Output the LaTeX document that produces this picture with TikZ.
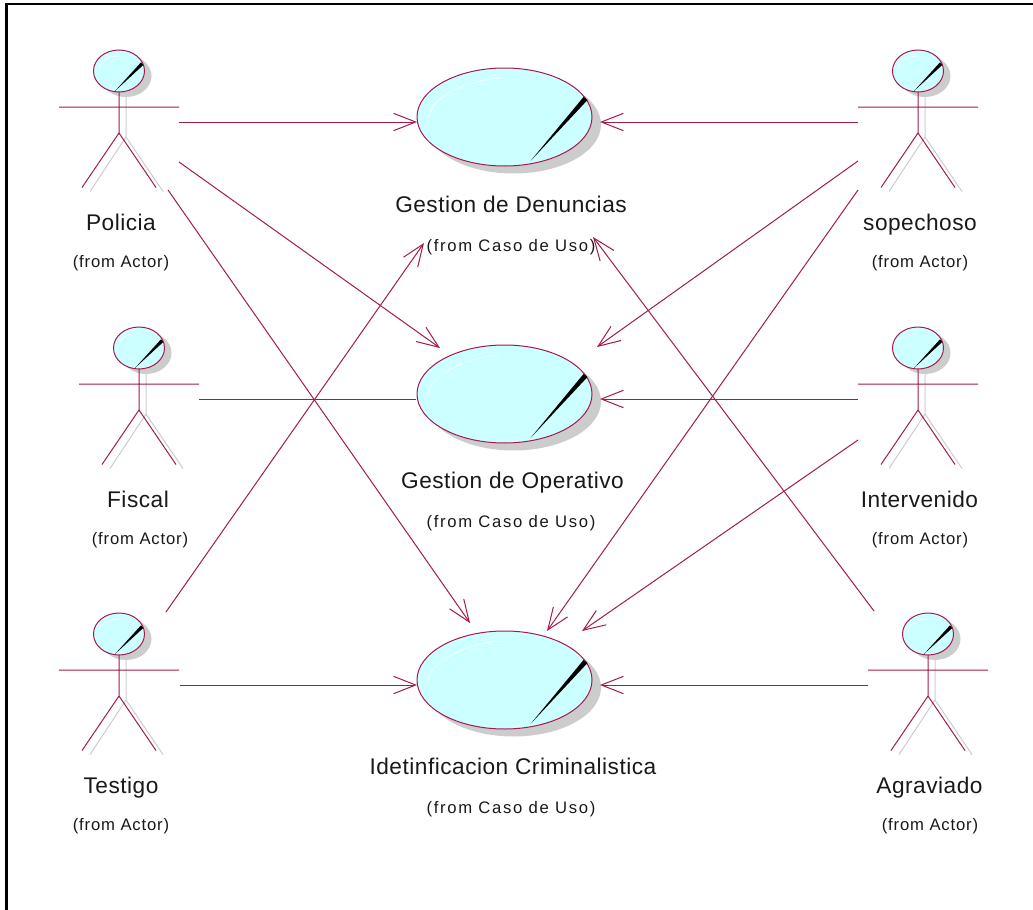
\documentclass[tikz,border=0pt]{standalone}
\usepackage{fontspec}
\setmainfont{Liberation Sans}
\usetikzlibrary{arrows.meta,shapes.geometric}
\definecolor{umlline}{HTML}{A31A4D}
\definecolor{umlfill}{HTML}{CCFFFF}
\definecolor{umlshadow}{HTML}{CCCCCC}
\tikzset{
  x=0.75pt,y=-0.75pt,
  frameline/.style={draw=black,line width=1.6pt},
  assoc/.style={draw=umlline,line width=0.75pt},
  navassoc/.style={assoc,-{Straight Barb[length=16.5pt,width=13pt,line width=0.75pt]}},
  actorbox/.style={minimum width=90pt,minimum height=108pt,inner sep=0pt,outer sep=0pt},
  limb/.style={draw=umlline,line width=0.75pt},
  limbshadow/.style={draw=umlshadow,line width=0.75pt},
  titletext/.style={anchor=base,font=\fontsize{17}{20}\selectfont\addfontfeature{LetterSpace=2.2},text=black!90,inner sep=0pt},
  fromtext/.style={anchor=base,font=\fontsize{12.5}{15}\selectfont\addfontfeature{LetterSpace=5},text=black!90,inner sep=0pt},
  fromcase/.style={anchor=base,font=\fontsize{12.5}{15}\selectfont\addfontfeature{LetterSpace=10},text=black!90,inner sep=0pt},
}
\newcommand{\umlactor}[3]{% name, head centre x, head centre y
  \begin{scope}[shift={(#2,#3)}]
    \fill[umlshadow] (7,5) ellipse [x radius=25.5,y radius=21];
    \draw[limbshadow] (7,21) -- (7,66) (-29,120.5) -- (7,66) -- (44,120.5);
    \draw[limb] (0,21) -- (0,62) (-60,36) -- (60,36) (-37,116.5) -- (0,62) -- (37,116.5);
    \draw[umlline,fill=umlfill,line width=0.75pt] (0,0) ellipse [x radius=25.5,y radius=21];
    \fill[black] (24.3,-6) -- (22,-8.7) -- (-4,20) -- cycle;
    \draw[white,line width=0.5pt] (-20,-2) .. controls (-19,-11) and (-10,-15) .. (0,-15);
  \end{scope}
  \node[actorbox] (#1) at (#2,#3+51) {};
}
\newcommand{\usecase}[3]{% name, cx, cy
  \begin{scope}[shift={(#2,#3)}]
    \fill[umlshadow] (9,7.5) ellipse [x radius=87.5,y radius=49];
    \draw[umlline,fill=umlfill,line width=0.75pt] (0,0) ellipse [x radius=87.5,y radius=49];
    \fill[black] (83,-17) -- (79,-20) -- (26,44) -- cycle;
    \draw[white,line width=0.5pt] (-76,1) .. controls (-75,-22) and (-30,-38) .. (-3,-39);
  \end{scope}
  \node[ellipse,minimum width=131.25pt,minimum height=73.5pt,inner sep=0pt,outer sep=0pt] (#1) at (#2,#3) {};
}
\begin{document}
\begin{tikzpicture}
\useasboundingbox (0,0) rectangle (1033,910);
\draw[frameline] (6.5,910) -- (6.5,4) -- (1033,4);

\usecase{ucd}{504.5}{117}
\usecase{uco}{504.5}{394}
\usecase{uci}{504.5}{680}

\umlactor{pol}{119}{71}
\umlactor{fis}{139}{348}
\umlactor{tes}{119}{634}
\umlactor{sop}{918}{71}
\umlactor{int}{918}{348}
\umlactor{agr}{928}{634}

\node[titletext] (tpol) at (121,230) {Policia};
\node[fromtext] (fpol) at (121,267) {(from Actor)};
\node[titletext] (tfis) at (138,507) {Fiscal};
\node[fromtext] (ffis) at (140,544) {(from Actor)};
\node[titletext] (ttes) at (121,793) {Testigo};
\node[fromtext] (ftes) at (121,830) {(from Actor)};
\node[titletext] (tsop) at (920,230) {sopechoso};
\node[fromtext] (fsop) at (920,267) {(from Actor)};
\node[titletext] (tint) at (919.5,507) {Intervenido};
\node[fromtext] (fint) at (920,544) {(from Actor)};
\node[titletext] (tagr) at (929.5,793) {Agraviado};
\node[fromtext] (fagr) at (930,830) {(from Actor)};
\node[titletext] (tucd) at (511,212) {Gestion de Denuncias};
\node[fromcase] (fucd) at (511,251) {(from Caso de Uso)};
\node[titletext] (tuco) at (512.5,488) {Gestion de Operativo};
\node[fromcase] (fuco) at (511,527) {(from Caso de Uso)};
\node[titletext] (tuci) at (513,774) {Idetinficacion Criminalistica};
\node[fromcase] (fuci) at (511,813) {(from Caso de Uso)};

% connector ends
\coordinate (polA) at (179,122); \coordinate (polB) at (179,162); \coordinate (polC) at (168,190);
\coordinate (fisA) at (199,399);
\coordinate (tesA) at (180,685); \coordinate (tesB) at (166,612);
\coordinate (sopA) at (858,122); \coordinate (sopB) at (858,161); \coordinate (sopC) at (858,190);
\coordinate (intA) at (858,399); \coordinate (intB) at (858,440);
\coordinate (agrA) at (868,685); \coordinate (agrB) at (874,611);
\coordinate (ucdW) at (417,122); \coordinate (ucdE) at (600,122); \coordinate (ucdL) at (424,243); \coordinate (ucdR) at (593,237);
\coordinate (ucoW) at (416,399); \coordinate (ucoE) at (600,399); \coordinate (ucoL) at (440,348); \coordinate (ucoR) at (597,347);
\coordinate (uciW) at (417,685); \coordinate (uciE) at (600,685); \coordinate (uciL) at (470,623); \coordinate (uciR) at (547,631); \coordinate (uciS) at (582,631);

\draw[navassoc] (polA) -- (ucdW);
\draw[navassoc] (polB) -- (ucoL);
\draw[navassoc] (polC) -- (uciL);
\draw[assoc] (fisA) -- (ucoW);
\draw[navassoc] (tesA) -- (uciW);
\draw[navassoc] (tesB) -- (ucdL);
\draw[navassoc] (sopA) -- (ucdE);
\draw[navassoc] (sopB) -- (ucoR);
\draw[navassoc] (sopC) -- (uciR);
\draw[navassoc] (intA) -- (ucoE);
\draw[navassoc] (intB) -- (uciS);
\draw[navassoc] (agrA) -- (uciE);
\draw[navassoc] (agrB) -- (ucdR);
\end{tikzpicture}
\end{document}
